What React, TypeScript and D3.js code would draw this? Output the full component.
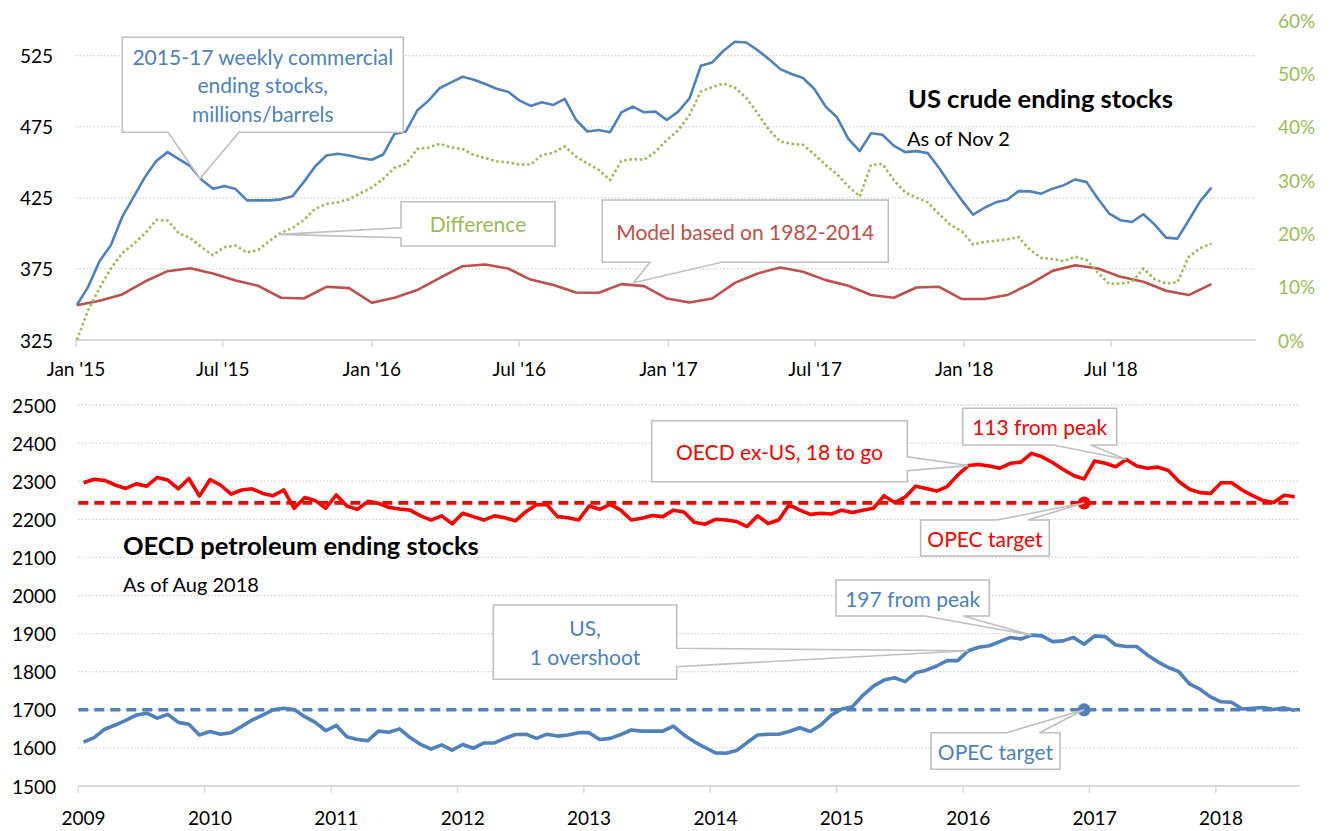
import * as d3 from 'd3'

// top chart: US crude, sampled every 2 weeks from Jan 2 2015
const crudeStart = new Date(2015, 0, 2)
const crudeStocks = [
  349.5, 362.4, 380.4, 391.6, 411.5, 425.5, 439.5, 450.8, 457.1, 452.2, 447.3, 437.7, 431.4, 433.2, 431.1, 423.2, 423.2,
  423.2, 423.9, 426, 436, 447, 454.7, 455.9, 454.7, 453, 451.7, 455.4, 469.9, 471.6, 486.3, 493.3, 502.2, 506.2, 510.1,
  508, 505, 501.7, 499.6, 493.5, 489.6, 492.1, 490.3, 494.5, 479.7, 471.6, 472.7, 471.1, 485.1, 489.1, 485.1, 485.6,
  479.7, 485.6, 494.9, 517.8, 520.2, 528.4, 534.7, 534.2, 528.8, 522.5, 515.5, 512, 509.2, 501.5, 489.1, 481.6, 466.4,
  457.8, 470.4, 469.3, 461.7, 457.1, 457.8, 456.4, 445.9, 434.2, 423.2, 413.1, 418, 421.8, 423.6, 429.7, 429.5, 427.9,
  431.4, 433.9, 437.9, 436, 424.3, 413.8, 409.2, 408, 413.4, 406.1, 397, 396.3, 409.2, 422.5, 432.1,
]
const difference = [
  0, 5.6, 9.7, 13.4, 16.3, 18, 20, 22.5, 22.4, 20, 19.1, 17.4, 15.9, 17.4, 17.7, 16.4, 16.9, 18.6, 20.1, 21, 22.5,
  24.6, 25.5, 25.8, 26.4, 27.5, 28.6, 30.2, 32.3, 33, 35.8, 36.1, 36.8, 36.1, 35.8, 34.7, 34.1, 33.5, 33.3, 32.9, 32.9,
  34.7, 35.1, 36.3, 34.4, 33.1, 31.9, 30, 33.6, 33.9, 33.8, 35.3, 37.5, 39.3, 42.2, 46.6, 47.4, 48.1, 47.3, 45.4, 42.5,
  39.4, 37.2, 36.8, 36.6, 34.8, 32.8, 31.1, 28.8, 26.9, 32.8, 33, 30, 27.7, 26.7, 25.8, 23.6, 21.6, 20.4, 17.9, 18.4,
  18.6, 18.9, 19.3, 16.9, 15.4, 15.2, 14.8, 15.6, 15, 12.6, 10.5, 10.6, 10.9, 13.4, 11.4, 10.6, 10.8, 15.6, 17.2, 18.1,
]
// model, every 4 weeks
const modelStocks = [
  349.5, 352.6, 357, 366.1, 373.4, 375.5, 371.8, 366.8, 363.1, 354.7, 354.2, 362.4, 361.5, 351.2, 354.7, 360.1, 368.7,
  376.9, 378.1, 375.3, 367.5, 363.6, 358.4, 358.2, 364.3, 362.9, 354.2, 351.4, 354.2, 365.2, 371.8, 376, 373, 367.1,
  363.1, 356.6, 354.7, 361.9, 362.4, 353.8, 353.8, 356.6, 364.3, 373.6, 377.6, 375.3, 369.4, 365.9, 359.6, 356.6, 364.3,
]
const leftTicks = [325, 375, 425, 475, 525]
const rightTicks = [0, 10, 20, 30, 40, 50, 60]
const topTicks: [string, Date][] = [
  ["Jan '15", new Date(2015, 0, 1)], ["Jul '15", new Date(2015, 6, 1)],
  ["Jan '16", new Date(2016, 0, 1)], ["Jul '16", new Date(2016, 6, 1)],
  ["Jan '17", new Date(2017, 0, 1)], ["Jul '17", new Date(2017, 6, 1)],
  ["Jan '18", new Date(2018, 0, 1)], ["Jul '18", new Date(2018, 6, 1)],
]

// bottom chart: OECD, monthly Jan 2009 - Aug 2018
const oecdExUs = [
  2296, 2305, 2302, 2290, 2281, 2293, 2287, 2310, 2303, 2280, 2307, 2261,
  2304, 2290, 2266, 2277, 2280, 2268, 2262, 2277, 2229, 2257, 2249, 2229,
  2264, 2235, 2226, 2247, 2242, 2231, 2227, 2224, 2209, 2198, 2209, 2188,
  2216, 2207, 2198, 2209, 2204, 2196, 2220, 2238, 2238, 2207, 2204, 2198,
  2235, 2226, 2239, 2224, 2198, 2203, 2210, 2207, 2224, 2219, 2192, 2187,
  2200, 2198, 2194, 2181, 2209, 2189, 2198, 2238, 2224, 2213, 2216, 2214,
  2224, 2218, 2224, 2229, 2262, 2244, 2258, 2287, 2281, 2274, 2286, 2316,
  2341, 2344, 2340, 2334, 2347, 2350, 2373, 2364, 2349, 2331, 2315, 2306,
  2353, 2347, 2338, 2357, 2340, 2334, 2337, 2328, 2299, 2279, 2270, 2268,
  2296, 2296, 2277, 2262, 2249, 2244, 2263, 2259,
]
const usStocks = [
  1615, 1627, 1649, 1660, 1672, 1686, 1691, 1678, 1688, 1667, 1662, 1634,
  1643, 1636, 1640, 1656, 1673, 1686, 1700, 1704, 1701, 1682, 1667, 1645,
  1659, 1629, 1622, 1619, 1644, 1641, 1650, 1627, 1609, 1597, 1608, 1594,
  1609, 1599, 1613, 1613, 1625, 1635, 1636, 1625, 1636, 1631, 1634, 1640,
  1640, 1622, 1625, 1635, 1647, 1644, 1644, 1644, 1657, 1634, 1616, 1601,
  1587, 1586, 1593, 1614, 1634, 1636, 1636, 1643, 1653, 1643, 1660, 1686,
  1702, 1708, 1738, 1762, 1778, 1784, 1774, 1797, 1804, 1815, 1829, 1829,
  1855, 1864, 1868, 1879, 1890, 1886, 1896, 1894, 1879, 1881, 1890, 1872,
  1894, 1892, 1870, 1866, 1866, 1844, 1826, 1811, 1800, 1768, 1754, 1734,
  1721, 1720, 1702, 1704, 1706, 1701, 1705, 1698,
]
const targetExUs = 2243
const targetUs = 1700
const targetMonth = 95 // Dec 2016
const bottomYTicks = [1500, 1600, 1700, 1800, 1900, 2000, 2100, 2200, 2300, 2400, 2500]
const years = [2009, 2010, 2011, 2012, 2013, 2014, 2015, 2016, 2017, 2018]

const FONT = 'Lato, "Open Sans", sans-serif'
const BLUE = '#4f81bd'
const GREEN = '#9bbb59'
const MODEL_RED = '#c0504d'
const RED = '#ff0000'
const GRID = '#d0d0d0'
const BOX = '#bfbfbf'

type Side = 'top' | 'bottom' | 'left' | 'right'
function calloutPath(x0: number, y0: number, x1: number, y1: number, side: Side, a: number, b: number, tip: [number, number]) {
  const t = `L${tip[0]},${tip[1]}`
  if (side === 'bottom') return `M${x0},${y0}H${x1}V${y1}H${b}${t}L${a},${y1}H${x0}Z`
  if (side === 'top') return `M${x0},${y0}H${a}${t}L${b},${y0}H${x1}V${y1}H${x0}Z`
  if (side === 'left') return `M${x0},${y0}H${x1}V${y1}H${x0}V${b}${t}L${x0},${a}Z`
  return `M${x0},${y0}H${x1}V${a}${t}L${x1},${b}V${y1}H${x0}Z`
}

function Callout({box, side, a, b, tip, lines, color, size = 21}: {
  box: [number, number, number, number], side: Side, a: number, b: number, tip: [number, number],
  lines: string[], color: string, size?: number
}) {
  const [x0, y0, x1, y1] = box
  const cx = (x0 + x1) / 2
  const cy = (y0 + y1) / 2
  const lh = 28.7
  return (
    <g>
      <path d={calloutPath(x0, y0, x1, y1, side, a, b, tip)} fill="#fff" stroke={BOX} strokeWidth={1.6} />
      {lines.map((l, i) => (
        <text key={i} x={cx} y={cy + (i - (lines.length - 1) / 2) * lh} textAnchor="middle"
          dominantBaseline="central" fill={color} fontSize={size} fontFamily={FONT}>{l}</text>
      ))}
    </g>
  )
}

export default function App() {
  // ---- top chart
  const x = d3.scaleTime().domain([new Date(2015, 0, 1), new Date(2018, 11, 27)]).range([76, 1256])
  const yL = d3.scaleLinear().domain([325, 550]).range([340, 20])
  const yR = d3.scaleLinear().domain([0, 60]).range([340, 20])
  const dayMs = 86400000
  const crudeDate = (i: number, step: number) => new Date(crudeStart.getTime() + i * step * dayMs)

  const crudeLine = d3.line<number>().x((_, i) => x(crudeDate(i, 14))).y(d => yL(d))
  const diffLine = d3.line<number>().x((_, i) => x(crudeDate(i, 14))).y(d => yR(d))
  const modelLine = d3.line<number>().x((_, i) => x(crudeDate(i, 28))).y(d => yL(d))

  // ---- bottom chart
  const xb = d3.scaleBand<number>().domain(d3.range(oecdExUs.length)).range([78.3, 1300]).padding(0)
  const xc = (i: number) => xb(i)! + xb.bandwidth() / 2
  const yb = d3.scaleLinear().domain([1500, 2500]).range([786, 405])
  const monthly = d3.line<number>().x((_, i) => xc(i)).y(d => yb(d))

  const tipAt = (arr: number[], k: number): [number, number] => [xc(k), yb(arr[k])]

  return (
    <svg width={1336} height={831} style={{position: 'absolute', left: 0, top: 0, background: '#fff'}}>
      {/* top grid */}
      {leftTicks.slice(1).map(t => (
        <line key={t} x1={76} x2={1256} y1={yL(t)} y2={yL(t)} stroke={GRID} strokeWidth={1.3} strokeDasharray="1.5,2" />
      ))}
      <line x1={76} x2={1256} y1={340} y2={340} stroke="#d9d9d9" strokeWidth={1.8} />
      {topTicks.map(([l, d]) => (
        <g key={l}>
          <line x1={x(d)} x2={x(d)} y1={340} y2={347} stroke="#d9d9d9" strokeWidth={1.5} />
          <text x={x(d)} y={368} textAnchor="middle" dominantBaseline="central" fontSize={19} fontFamily={FONT} fill="#000">{l}</text>
        </g>
      ))}
      {leftTicks.map(t => (
        <text key={t} x={53} y={yL(t)} textAnchor="end" dominantBaseline="central" fontSize={19} fontFamily={FONT} fill="#000">{t}</text>
      ))}
      {rightTicks.map(t => (
        <text key={t} x={1278} y={yR(t)} dominantBaseline="central" fontSize={19} fontFamily={FONT} fill={GREEN}>{t}%</text>
      ))}

      <path d={modelLine(modelStocks)!} fill="none" stroke={MODEL_RED} strokeWidth={2.6} strokeLinejoin="round" />
      <path d={diffLine(difference)!} fill="none" stroke={GREEN} strokeWidth={2.6} strokeDasharray="2.6,2.6" />
      <path d={crudeLine(crudeStocks)!} fill="none" stroke={BLUE} strokeWidth={2.6} strokeLinejoin="round" />

      <text x={908} y={108} fontSize={25.5} fontWeight="bold" fontFamily={FONT} fill="#000">US crude ending stocks</text>
      <text x={907} y={146} fontSize={20} fontFamily={FONT} fill="#000">As of Nov 2</text>

      <Callout box={[122.3, 37.3, 403.3, 132.3]} side="bottom" a={168} b={239}
        tip={[x(new Date(2015, 5, 3)), yL(438.5)]} color={BLUE}
        lines={['2015-17 weekly commercial', 'ending stocks,', 'millions/barrels']} />
      <Callout box={[401, 201.7, 555, 246]} side="left" a={227.7} b={237.7}
        tip={[x(new Date(2015, 8, 9)), yR(19.8)]} color={GREEN} lines={['Difference']} />
      <Callout box={[602.3, 200, 888.3, 262.3]} side="bottom" a={650} b={721.7}
        tip={[x(new Date(2016, 10, 19)), yL(365.3)]} color={MODEL_RED} lines={['Model based on 1982-2014']} />

      {/* bottom grid */}
      {bottomYTicks.slice(1).map(t => (
        <line key={t} x1={78.3} x2={1300} y1={yb(t)} y2={yb(t)} stroke={GRID} strokeWidth={1.3} strokeDasharray="1.5,2" />
      ))}
      <line x1={78.3} x2={1300} y1={786} y2={786} stroke="#d9d9d9" strokeWidth={1.8} />
      {years.map((yr, j) => (
        <g key={yr}>
          <line x1={xb(j * 12)!} x2={xb(j * 12)!} y1={786} y2={793} stroke="#d9d9d9" strokeWidth={1.5} />
          <text x={xc(j * 12)} y={817} textAnchor="middle" dominantBaseline="central" fontSize={19} fontFamily={FONT} fill="#000">{yr}</text>
        </g>
      ))}
      {bottomYTicks.map(t => (
        <text key={t} x={56} y={yb(t)} textAnchor="end" dominantBaseline="central" fontSize={19} fontFamily={FONT} fill="#000">{t}</text>
      ))}

      <line x1={78.3} x2={1290} y1={yb(targetExUs)} y2={yb(targetExUs)} stroke={RED} strokeWidth={3.6} strokeDasharray="10,6" />
      <line x1={78.3} x2={1300} y1={yb(targetUs)} y2={yb(targetUs)} stroke={BLUE} strokeWidth={3.6} strokeDasharray="10,6" />
      <path d={monthly(oecdExUs)!} fill="none" stroke={RED} strokeWidth={3.6} strokeLinejoin="round" />
      <path d={monthly(usStocks)!} fill="none" stroke={BLUE} strokeWidth={3.6} strokeLinejoin="round" />
      <circle cx={xc(targetMonth)} cy={yb(targetExUs)} r={6.5} fill={RED} />
      <circle cx={xc(targetMonth)} cy={yb(targetUs)} r={6.5} fill={BLUE} />

      <text x={123} y={555} fontSize={25.5} fontWeight="bold" fontFamily={FONT} fill="#000">OECD petroleum ending stocks</text>
      <text x={123} y={592} fontSize={20} fontFamily={FONT} fill="#000">As of Aug 2018</text>

      <Callout box={[651.7, 420.7, 907.3, 481.7]} side="right" a={456.7} b={470.7}
        tip={tipAt(oecdExUs, 84)} color={RED} lines={['OECD ex-US, 18 to go']} />
      <Callout box={[962.7, 408.3, 1116.7, 445]} side="bottom" a={1053.3} b={1090.7}
        tip={tipAt(oecdExUs, 99)} color={RED} lines={['113 from peak']} />
      <Callout box={[920.7, 520, 1049.3, 556]} side="top" a={996.7} b={1027.7}
        tip={[xc(targetMonth), yb(targetExUs)]} color={RED} lines={['OPEC target']} />
      <Callout box={[493.3, 605, 676.7, 679.3]} side="right" a={648.3} b={666.7}
        tip={tipAt(usStocks, 84)} color={BLUE} lines={['US,', '1 overshoot']} />
      <Callout box={[836, 580, 989.3, 616]} side="bottom" a={925} b={963.3}
        tip={tipAt(usStocks, 90)} color={BLUE} lines={['197 from peak']} />
      <Callout box={[931, 732.7, 1060, 769.3]} side="top" a={1006.7} b={1039.3}
        tip={[xc(targetMonth), yb(targetUs)]} color={BLUE} lines={['OPEC target']} />
    </svg>
  )
}
